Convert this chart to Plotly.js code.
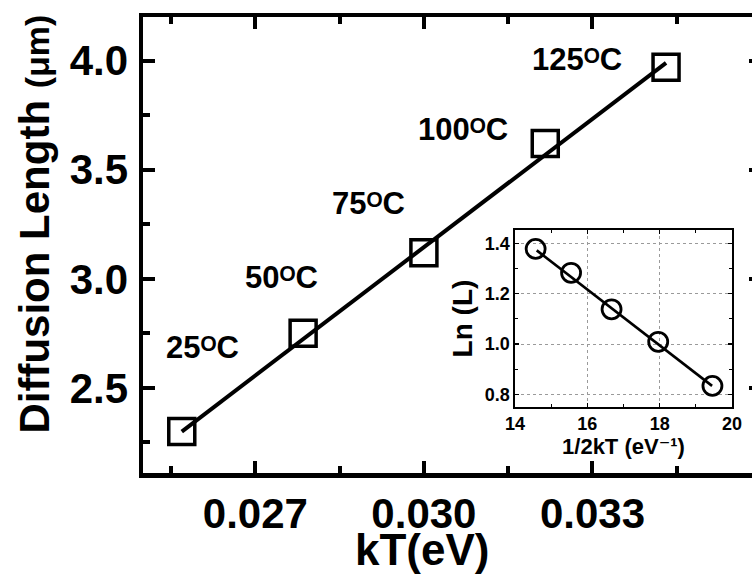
<!DOCTYPE html>
<html>
<head>
<meta charset="utf-8">
<script src="https://cdn.plot.ly/plotly-3.0.1.min.js"></script>
<style>
  html, body { margin: 0; padding: 0; overflow: hidden; background: #fff; }
  #chart { width: 770px; height: 576px; }
</style>
</head>
<body>
<div id="chart"></div>
<script>
// ---- data ----
const kT        = [0.02569, 0.02785, 0.03000, 0.03216, 0.03431];   // eV
const diffLen   = [2.30, 2.75, 3.12, 3.62, 3.97];                   // um
const tempLabels = ['25\u1D3CC', '50\u1D3CC', '75\u1D3CC', '100\u1D3CC', '125\u1D3CC'];
const fitKT     = [0.02569, 0.03431];
const fitL      = [2.30, 3.99];

const invTwoKT  = [19.46, 17.96, 16.67, 15.55, 14.57];              // 1/2kT (eV^-1)
const lnL       = [0.834, 1.009, 1.138, 1.283, 1.378];
const fitInv    = [14.60, 19.45];
const fitLn     = [1.372, 0.834];

// label anchor positions (data coords), kept separate from the values
const labelX = [0.02606, 0.02747, 0.02901, 0.03070, 0.03272];
const labelY = [2.686, 3.006, 3.346, 3.686, 4.006];

const FONT = 'Liberation Sans, Arial, Helvetica, DejaVu Sans, sans-serif';
const black = '#000';

const traces = [
  { x: fitKT, y: fitL, mode: 'lines', line: {color: black, width: 4}, xaxis: 'x', yaxis: 'y', hoverinfo: 'skip' },
  { x: kT, y: diffLen, mode: 'markers',
    marker: {symbol: 'square-open', size: 26, color: black, line: {width: 3.5, color: black}}, xaxis: 'x', yaxis: 'y' },
  { x: fitInv, y: fitLn, mode: 'lines', line: {color: black, width: 2.6}, xaxis: 'x2', yaxis: 'y2', hoverinfo: 'skip' },
  { x: invTwoKT, y: lnL, mode: 'markers',
    marker: {symbol: 'circle-open', size: 19, color: black, line: {width: 2.8, color: black}}, xaxis: 'x2', yaxis: 'y2' },
  // empty traces that carry the tick-mark axes
  { x: [], y: [], xaxis: 'x3', yaxis: 'y', hoverinfo: 'skip' },
  { x: [], y: [], xaxis: 'x', yaxis: 'y3', hoverinfo: 'skip' },
  { x: [], y: [], xaxis: 'x4', yaxis: 'y2', hoverinfo: 'skip' },
  { x: [], y: [], xaxis: 'x2', yaxis: 'y4', hoverinfo: 'skip' }
];

const annotations = tempLabels.map((t, i) => ({
  x: labelX[i], y: labelY[i], xref: 'x', yref: 'y', text: t, showarrow: false,
  xanchor: 'center', yanchor: 'middle',
  font: {family: FONT, size: 31, weight: 700, color: black}
}));
annotations.push({
  text: 'kT(eV)', xref: 'paper', yref: 'paper', x: 0.4515, y: -0.168,
  xanchor: 'center', yanchor: 'middle', showarrow: false,
  font: {family: FONT, size: 44, weight: 700, color: black}
});
annotations.push({
  text: 'Diffusion Length <span style="font-size:34px">(μm)</span>',
  xref: 'paper', yref: 'paper', x: -0.1748, y: 0.547, textangle: -90,
  xanchor: 'center', yanchor: 'middle', showarrow: false,
  font: {family: FONT, size: 42, weight: 700, color: black}
});

const mainX = {range: [0.025, 0.036], tick0: 0, dtick: 0.003};
const mainY = {range: [2.11, 4.2], tick0: 0, dtick: 0.5};
const insX  = {range: [14, 20], tick0: 0, dtick: 2};
const insY  = {range: [0.75, 1.453], tick0: 0, dtick: 0.2};
const frame = (w) => ({showline: true, linewidth: w, linecolor: black, zeroline: false});

const layout = {
  width: 770, height: 576,
  margin: {l: 143, r: 9, t: 17, b: 103},
  paper_bgcolor: '#fff', plot_bgcolor: '#fff',
  showlegend: false,
  font: {family: FONT, color: black},
  xaxis: Object.assign({}, mainX, frame(4.5), {
    tickformat: '.3f', ticks: '', mirror: true, showgrid: false,
    tickfont: {family: FONT, size: 42, weight: 700, color: black}
  }),
  yaxis: Object.assign({}, mainY, frame(4.5), {
    tickformat: '.1f', ticks: '', mirror: true, showgrid: false, ticklabelstandoff: 2,
    tickfont: {family: FONT, size: 42, weight: 700, color: black}
  }),
  xaxis3: Object.assign({}, mainX, frame(4.5), {
    overlaying: 'x', anchor: 'y', side: 'bottom', mirror: 'ticks', showgrid: false, showticklabels: false,
    ticks: 'inside', ticklen: 12, tickwidth: 4, tickcolor: black,
    minor: {dtick: 0.0015, ticks: 'inside', ticklen: 7, tickwidth: 4, tickcolor: black}
  }),
  yaxis3: Object.assign({}, mainY, frame(4.5), {
    overlaying: 'y', anchor: 'x', side: 'left', mirror: 'ticks', showgrid: false, showticklabels: false,
    ticks: 'inside', ticklen: 12, tickwidth: 4, tickcolor: black,
    minor: {dtick: 0.25, ticks: 'inside', ticklen: 7, tickwidth: 4, tickcolor: black}
  }),
  xaxis2: Object.assign({}, insX, frame(1.6), {
    domain: [0.602, 0.953], anchor: 'y2', ticks: '', mirror: true,
    showgrid: true, gridcolor: '#9a9a9a', griddash: 'dot', gridwidth: 1,
    tickfont: {family: FONT, size: 18, weight: 700, color: black},
    title: {text: '1/2kT (eV\u207B\u00B9)', standoff: 2, font: {family: FONT, size: 22, weight: 700, color: black}}
  }),
  yaxis2: Object.assign({}, insY, frame(1.6), {
    domain: [0.1447, 0.5329], anchor: 'x2', tickformat: '.1f', ticks: '', mirror: true,
    showgrid: true, gridcolor: '#9a9a9a', griddash: 'dot', gridwidth: 1,
    tickfont: {family: FONT, size: 18, weight: 700, color: black},
    title: {text: 'Ln (L)', standoff: 4, font: {family: FONT, size: 28, weight: 700, color: black}}
  }),
  xaxis4: Object.assign({}, insX, frame(1.6), {
    overlaying: 'x2', anchor: 'y2', side: 'bottom', mirror: 'ticks', showgrid: false, showticklabels: false,
    ticks: 'inside', ticklen: 4, tickwidth: 1.2, tickcolor: black,
    minor: {dtick: 1, ticks: 'inside', ticklen: 3, tickwidth: 1.2, tickcolor: black}
  }),
  yaxis4: Object.assign({}, insY, frame(1.6), {
    overlaying: 'y2', anchor: 'x2', side: 'left', mirror: 'ticks', showgrid: false, showticklabels: false,
    ticks: 'inside', ticklen: 4, tickwidth: 1.2, tickcolor: black,
    minor: {dtick: 0.1, ticks: 'inside', ticklen: 3, tickwidth: 1.2, tickcolor: black}
  }),
  annotations: annotations
};

Plotly.newPlot('chart', traces, layout, {displayModeBar: false, staticPlot: true});
</script>
</body>
</html>
